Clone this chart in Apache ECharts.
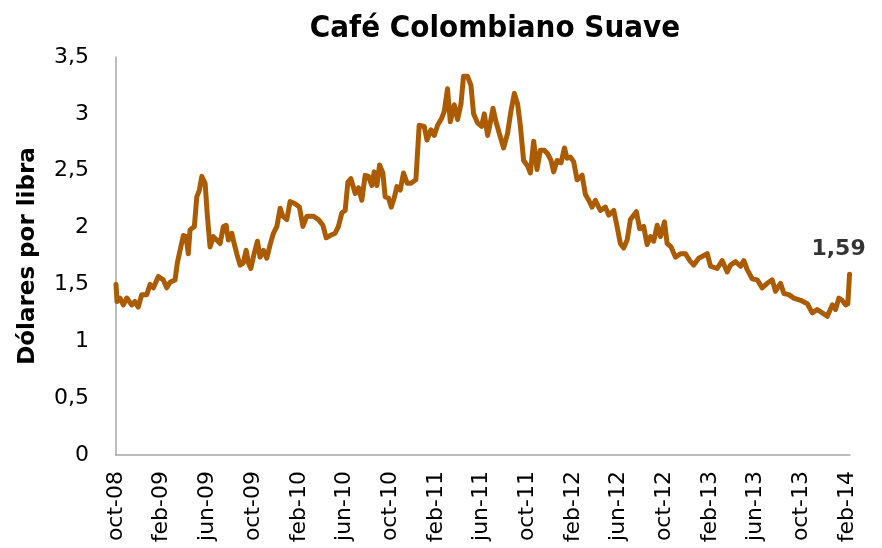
<!DOCTYPE html>
<html>
<head>
<meta charset="utf-8">
<script src="https://cdn.jsdelivr.net/npm/echarts@6/dist/echarts.min.js"></script>
<style>
html,body{margin:0;padding:0;background:#fff;}
#chart{width:882px;height:548px;}
</style>
</head>
<body>
<div id="chart"></div>
<script>
// Months elapsed since 1 Oct 2008
var meses = [0,0.09,0.35,0.64,0.94,1.38,1.66,1.95,2.25,2.69,2.98,3.27,3.71,4.14,4.44,4.73,5.17,5.37,5.61,5.90,6.13,6.33,6.48,6.86,7.07,7.30,7.51,7.80,8.00,8.23,8.52,8.82,9.11,9.40,9.64,9.84,10.14,10.34,10.57,10.86,11.15,11.39,11.59,11.80,12.09,12.38,12.61,12.90,13.20,13.49,13.78,14.08,14.37,14.60,14.95,15.24,15.68,16.06,16.36,16.71,17.28,17.72,18.11,18.40,18.75,19.18,19.47,19.77,20.06,20.30,20.56,20.94,21.23,21.52,21.81,22.10,22.40,22.60,22.84,23.07,23.36,23.56,23.85,24.09,24.35,24.59,24.88,25.17,25.49,25.82,26.25,26.54,26.98,27.22,27.57,27.86,28.15,28.50,28.73,29.02,29.26,29.61,29.90,30.20,30.42,30.77,31.07,31.30,31.65,32.00,32.24,32.53,32.76,33.00,33.26,33.55,33.93,34.28,34.58,34.87,35.15,35.39,35.68,36.03,36.27,36.56,36.85,37.14,37.49,37.78,38.08,38.31,38.61,38.96,39.25,39.48,39.77,40.06,40.36,40.80,41.09,41.38,41.67,41.96,42.40,42.84,43.13,43.57,43.86,44.15,44.44,44.74,45.03,45.55,45.84,46.19,46.49,46.78,47.07,47.37,47.66,48.01,48.24,48.59,48.97,49.41,49.85,50.22,50.57,51.01,51.75,52.04,52.62,53.06,53.50,53.79,54.23,54.67,54.96,55.25,55.69,56.13,56.56,57.00,57.44,57.73,58.17,58.46,58.89,59.33,59.92,60.51,60.95,61.38,61.82,62.26,62.70,62.99,63.27,63.57,63.86,64.06,64.21];
// Dólares por libra
var valores = [1.50,1.35,1.38,1.32,1.38,1.32,1.35,1.30,1.41,1.41,1.50,1.47,1.57,1.54,1.47,1.52,1.54,1.69,1.80,1.93,1.92,1.77,1.98,2.01,2.27,2.33,2.45,2.39,2.10,1.83,1.92,1.89,1.86,2.01,2.02,1.89,1.95,1.86,1.77,1.67,1.69,1.80,1.69,1.64,1.77,1.88,1.74,1.80,1.73,1.85,1.95,2.01,2.17,2.10,2.07,2.23,2.21,2.18,2.01,2.10,2.10,2.07,2.02,1.91,1.93,1.95,2.01,2.13,2.15,2.40,2.43,2.30,2.35,2.24,2.46,2.45,2.37,2.49,2.37,2.55,2.48,2.27,2.26,2.18,2.26,2.36,2.33,2.48,2.39,2.39,2.42,2.90,2.89,2.77,2.86,2.81,2.90,2.96,3.02,3.22,2.93,3.08,2.95,3.09,3.33,3.33,3.25,3.00,2.92,2.89,3.00,2.81,2.92,3.05,2.93,2.83,2.70,2.83,3.03,3.18,3.09,2.90,2.59,2.54,2.48,2.76,2.51,2.68,2.68,2.65,2.59,2.49,2.59,2.57,2.70,2.61,2.62,2.58,2.42,2.46,2.29,2.24,2.18,2.24,2.15,2.18,2.11,2.15,2.01,1.86,1.82,1.89,2.07,2.14,1.99,2.01,1.85,1.92,1.88,2.02,1.92,2.05,1.86,1.83,1.74,1.77,1.77,1.71,1.67,1.73,1.77,1.66,1.64,1.71,1.61,1.67,1.70,1.66,1.71,1.63,1.55,1.54,1.47,1.51,1.54,1.44,1.51,1.42,1.41,1.38,1.36,1.33,1.25,1.28,1.25,1.22,1.32,1.28,1.38,1.36,1.32,1.33,1.59];
// Tick labels every 4 months
var etiquetasX = ['oct-08','feb-09','jun-09','oct-09','feb-10','jun-10','oct-10','feb-11','jun-11','oct-11','feb-12','jun-12','oct-12','feb-13','jun-13','oct-13','feb-14'];

var serie = meses.map(function(m, i){ return [m, valores[i]]; });
var ultimo = serie[serie.length - 1];
var coma = function(v){ return String(v).replace('.', ','); };

var chart = echarts.init(document.getElementById('chart'), null, {renderer:'canvas'});
var FONT = 'DejaVu Sans';
chart.setOption({
  animation: false,
  backgroundColor: '#ffffff',
  title: {
    text: 'Café Colombiano Suave',
    left: 490, top: 8, textAlign: 'center',
    textStyle: {fontFamily: 'DejaVu Sans Condensed', fontWeight: 'bold', fontSize: 31, color: '#000'}
  },
  grid: {left: 116, right: 32, top: 57, bottom: 93, containLabel: false, outerBoundsMode: 'none'},
  xAxis: {
    type: 'value', min: 0, max: 64.25, interval: 4,
    axisLine: {show: true, lineStyle: {color: '#A6A6A6', width: 1.5}},
    axisTick: {show: false},
    splitLine: {show: false},
    axisLabel: {
      rotate: 90, margin: 16, color: '#000', fontFamily: FONT, fontSize: 22,
      showMaxLabel: false,
      formatter: function(v){
        var k = Math.round(v / 4);
        return (Math.abs(v - k*4) < 1e-6 && etiquetasX[k]) ? etiquetasX[k] : '';
      }
    }
  },
  yAxis: {
    type: 'value', min: 0, max: 3.5, interval: 0.5,
    name: 'Dólares por libra', nameLocation: 'middle', nameGap: 76,
    nameTextStyle: {fontFamily: FONT, fontWeight: 'bold', fontSize: 23, color: '#000'},
    axisLine: {show: true, lineStyle: {color: '#A6A6A6', width: 1.5}},
    axisTick: {show: false},
    splitLine: {show: false},
    axisLabel: {margin: 27, color: '#000', fontFamily: FONT, fontSize: 22, formatter: coma}
  },
  series: [
    {
      type: 'line', data: serie, showSymbol: false, smooth: false,
      lineStyle: {color: '#AB5C02', width: 5, cap: 'round', join: 'round'},
      itemStyle: {color: '#AB5C02'}
    },
    {
      type: 'scatter', data: [ultimo], symbolSize: 0.1, silent: true,
      label: {
        show: true, position: 'top', distance: 0, offset: [-11, -14],
        fontFamily: FONT, fontWeight: 'bold', fontSize: 22, color: '#000',
        formatter: function(p){ return coma(p.value[1].toFixed(2)); }
      }
    }
  ]
});
</script>
</body>
</html>
